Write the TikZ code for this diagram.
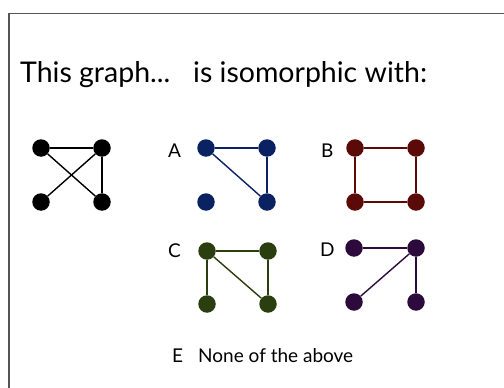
\documentclass[tikz,border=0pt]{standalone}
\usepackage{fontspec}
\setmainfont{Lato}
\usetikzlibrary{positioning}

\definecolor{graphA}{HTML}{0B2262}
\definecolor{graphB}{HTML}{5C0A08}
\definecolor{graphC}{HTML}{2A3E10}
\definecolor{graphD}{HTML}{2C0B3C}
\definecolor{framegray}{HTML}{555555}

\begin{document}
\begin{tikzpicture}[
    x=1pt, y=-1pt,
    vert/.style={circle, fill, inner sep=0pt, minimum size=17.5pt},
    edge/.style={line width=1.4pt},
    title/.style={anchor=base west, inner sep=0pt, font=\fontsize{28.5}{32}\selectfont},
    choice/.style={anchor=base west, inner sep=0pt, font=\fontsize{19}{22}\selectfont},
  ]
    \useasboundingbox (0,0) rectangle (504,388);
    % Frame
    \draw[framegray, line width=1.5pt] (9,388) |- (504,13.5);

    % Title
    \node[title] (t1) at (20,82) {This graph...};
    \node[title] (t2) at (193,82) {is isomorphic with:};

    % Given graph
    \node[vert] (g1) at (41,148) {};
    \node[vert] (g2) at (102,148) {};
    \node[vert] (g3) at (41,202) {};
    \node[vert] (g4) at (102,202) {};
    \draw[edge] (g1) -- (g2);
    \draw[edge] (g1) -- (g4);
    \draw[edge] (g3) -- (g2);
    \draw[edge] (g2) -- (g4);

    % A
    \node[choice] (la) at (168,157) {A};
    \node[vert, graphA] (a1) at (206,148) {};
    \node[vert, graphA] (a2) at (267,148) {};
    \node[vert, graphA] (a3) at (206,202) {};
    \node[vert, graphA] (a4) at (267,202) {};
    \draw[edge, graphA] (a1) -- (a2);
    \draw[edge, graphA] (a1) -- (a4);
    \draw[edge, graphA] (a2) -- (a4);

    % B
    \node[choice] (lb) at (321,157) {B};
    \node[vert, graphB] (b1) at (355,148) {};
    \node[vert, graphB] (b2) at (416,148) {};
    \node[vert, graphB] (b3) at (355,202) {};
    \node[vert, graphB] (b4) at (416,202) {};
    \draw[edge, graphB] (b1) -- (b2) -- (b4) -- (b3) -- (b1);

    % C
    \node[choice] (lc) at (168,257) {C};
    \node[vert, graphC] (c1) at (207,251) {};
    \node[vert, graphC] (c2) at (268,251) {};
    \node[vert, graphC] (c3) at (207,304) {};
    \node[vert, graphC] (c4) at (268,304) {};
    \draw[edge, graphC] (c1) -- (c2);
    \draw[edge, graphC] (c1) -- (c3);
    \draw[edge, graphC] (c1) -- (c4);
    \draw[edge, graphC] (c2) -- (c4);

    % D
    \node[choice] (ld) at (320,256) {D};
    \node[vert, graphD] (d1) at (354,248) {};
    \node[vert, graphD] (d2) at (416,248) {};
    \node[vert, graphD] (d3) at (354,302) {};
    \node[vert, graphD] (d4) at (416,302) {};
    \draw[edge, graphD] (d1) -- (d2);
    \draw[edge, graphD] (d2) -- (d3);
    \draw[edge, graphD] (d2) -- (d4);

    % E
    \node[choice] (le) at (172,362) {E};
    \node[choice] (none) at (198,362) {None of the above};
  \end{tikzpicture}
\end{document}
